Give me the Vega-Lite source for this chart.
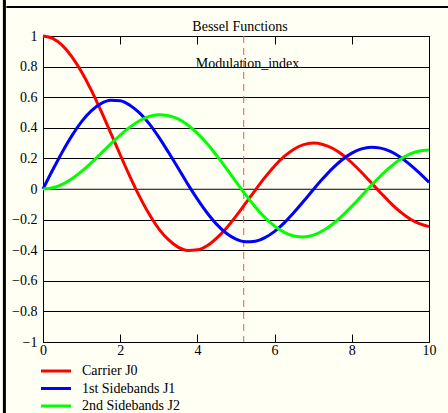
{
  "$schema": "https://vega.github.io/schema/vega-lite/v6.json",
  "width": 386,
  "height": 306,
  "autosize": {"type": "none"},
  "padding": {"left": 43, "top": 36, "right": 19, "bottom": 71},
  "background": "#fffff3",
  "title": {"text": "Bessel Functions", "font": "Liberation Serif", "fontSize": 14, "fontWeight": "normal", "color": "black", "anchor": "middle", "offset": 0, "dy": 38, "dx": 4},
  "config": {
    "view": {"stroke": "black", "strokeWidth": 1},
    "axis": {"labelFont": "Liberation Serif", "labelFontSize": 14, "labelColor": "black", "domain": false, "title": null, "labelOverlap": false}
  },
  "resolve": {"axis": {"x": "independent", "y": "independent"}},
  "datasets": {
    "bessel": [
      {"x": 0, "Carrier J0": 1, "1st Sidebands J1": 0, "2nd Sidebands J2": 0},
      {"x": 0.25, "Carrier J0": 0.9844, "1st Sidebands J1": 0.124, "2nd Sidebands J2": 0.0078},
      {"x": 0.5, "Carrier J0": 0.9385, "1st Sidebands J1": 0.2423, "2nd Sidebands J2": 0.0306},
      {"x": 0.75, "Carrier J0": 0.8642, "1st Sidebands J1": 0.3492, "2nd Sidebands J2": 0.0671},
      {"x": 1, "Carrier J0": 0.7652, "1st Sidebands J1": 0.4401, "2nd Sidebands J2": 0.1149},
      {"x": 1.25, "Carrier J0": 0.646, "1st Sidebands J1": 0.5106, "2nd Sidebands J2": 0.1709},
      {"x": 1.5, "Carrier J0": 0.5118, "1st Sidebands J1": 0.5579, "2nd Sidebands J2": 0.2321},
      {"x": 1.75, "Carrier J0": 0.369, "1st Sidebands J1": 0.58, "2nd Sidebands J2": 0.2938},
      {"x": 2, "Carrier J0": 0.2239, "1st Sidebands J1": 0.5767, "2nd Sidebands J2": 0.3528},
      {"x": 2.25, "Carrier J0": 0.0827, "1st Sidebands J1": 0.5479, "2nd Sidebands J2": 0.4043},
      {"x": 2.5, "Carrier J0": -0.0484, "1st Sidebands J1": 0.4971, "2nd Sidebands J2": 0.4461},
      {"x": 2.75, "Carrier J0": -0.1641, "1st Sidebands J1": 0.4275, "2nd Sidebands J2": 0.4751},
      {"x": 3, "Carrier J0": -0.2601, "1st Sidebands J1": 0.3391, "2nd Sidebands J2": 0.4861},
      {"x": 3.25, "Carrier J0": -0.3313, "1st Sidebands J1": 0.2402, "2nd Sidebands J2": 0.4791},
      {"x": 3.5, "Carrier J0": -0.3801, "1st Sidebands J1": 0.1374, "2nd Sidebands J2": 0.4586},
      {"x": 3.75, "Carrier J0": -0.4014, "1st Sidebands J1": 0.0321, "2nd Sidebands J2": 0.4185},
      {"x": 4, "Carrier J0": -0.3971, "1st Sidebands J1": -0.066, "2nd Sidebands J2": 0.3641},
      {"x": 4.25, "Carrier J0": -0.3706, "1st Sidebands J1": -0.155, "2nd Sidebands J2": 0.2977},
      {"x": 4.5, "Carrier J0": -0.3205, "1st Sidebands J1": -0.2311, "2nd Sidebands J2": 0.2178},
      {"x": 4.75, "Carrier J0": -0.256, "1st Sidebands J1": -0.289, "2nd Sidebands J2": 0.1343},
      {"x": 5, "Carrier J0": -0.1776, "1st Sidebands J1": -0.3276, "2nd Sidebands J2": 0.0466},
      {"x": 5.25, "Carrier J0": -0.0929, "1st Sidebands J1": -0.345, "2nd Sidebands J2": -0.0385},
      {"x": 5.5, "Carrier J0": -0.0068, "1st Sidebands J1": -0.3414, "2nd Sidebands J2": -0.1173},
      {"x": 5.75, "Carrier J0": 0.0757, "1st Sidebands J1": -0.318, "2nd Sidebands J2": -0.1863},
      {"x": 6, "Carrier J0": 0.1506, "1st Sidebands J1": -0.2767, "2nd Sidebands J2": -0.2429},
      {"x": 6.25, "Carrier J0": 0.2126, "1st Sidebands J1": -0.221, "2nd Sidebands J2": -0.2833},
      {"x": 6.5, "Carrier J0": 0.2601, "1st Sidebands J1": -0.1538, "2nd Sidebands J2": -0.3074},
      {"x": 6.75, "Carrier J0": 0.2896, "1st Sidebands J1": -0.0806, "2nd Sidebands J2": -0.3135},
      {"x": 7, "Carrier J0": 0.3001, "1st Sidebands J1": -0.0047, "2nd Sidebands J2": -0.3014},
      {"x": 7.25, "Carrier J0": 0.2913, "1st Sidebands J1": 0.068, "2nd Sidebands J2": -0.2725},
      {"x": 7.5, "Carrier J0": 0.2663, "1st Sidebands J1": 0.1352, "2nd Sidebands J2": -0.2303},
      {"x": 7.75, "Carrier J0": 0.2255, "1st Sidebands J1": 0.1914, "2nd Sidebands J2": -0.1761},
      {"x": 8, "Carrier J0": 0.1717, "1st Sidebands J1": 0.2346, "2nd Sidebands J2": -0.113},
      {"x": 8.25, "Carrier J0": 0.109, "1st Sidebands J1": 0.262, "2nd Sidebands J2": -0.0455},
      {"x": 8.5, "Carrier J0": 0.0419, "1st Sidebands J1": 0.2731, "2nd Sidebands J2": 0.0223},
      {"x": 8.75, "Carrier J0": -0.0256, "1st Sidebands J1": 0.267, "2nd Sidebands J2": 0.0866},
      {"x": 9, "Carrier J0": -0.0903, "1st Sidebands J1": 0.2453, "2nd Sidebands J2": 0.1448},
      {"x": 9.25, "Carrier J0": -0.148, "1st Sidebands J1": 0.2093, "2nd Sidebands J2": 0.1933},
      {"x": 9.5, "Carrier J0": -0.1939, "1st Sidebands J1": 0.1613, "2nd Sidebands J2": 0.2279},
      {"x": 9.75, "Carrier J0": -0.2267, "1st Sidebands J1": 0.1053, "2nd Sidebands J2": 0.2483},
      {"x": 10, "Carrier J0": -0.2459, "1st Sidebands J1": 0.0435, "2nd Sidebands J2": 0.2546}
    ]
  },
  "layer": [
    {
      "data": {"values": [{"y": 0}]},
      "mark": {"type": "rule", "color": "#808080", "strokeWidth": 1},
      "encoding": {
        "y": {"field": "y", "type": "quantitative", "scale": {"domain": [-1, 1], "nice": false, "zero": false},
          "axis": {"values": [-1, -0.8, -0.6, -0.4, -0.2, 0, 0.2, 0.4, 0.6, 0.8, 1], "format": "~g", "ticks": false, "labelPadding": 6, "grid": true,
            "gridColor": "black", "gridWidth": 1, "gridOpacity": 1}}
      }
    },
    {
      "data": {"values": [{"x": 5.2}]},
      "mark": {"type": "rule", "color": "#f05555", "strokeWidth": 1, "strokeDash": [7, 5]},
      "encoding": {
        "x": {"field": "x", "type": "quantitative", "scale": {"domain": [0, 10], "nice": false, "zero": false},
          "axis": {"orient": "top", "values": [0, 2, 4, 6, 8, 10], "labels": false, "grid": false, "ticks": true, "tickSize": -8, "tickColor": "black", "domain": false}}
      }
    },
    {
      "data": {"name": "bessel"},
      "transform": [{"fold": ["Carrier J0", "1st Sidebands J1", "2nd Sidebands J2"], "as": ["series", "value"]}],
      "mark": {"type": "line", "strokeWidth": 3, "interpolate": "monotone"},
      "encoding": {
        "x": {"field": "x", "type": "quantitative",
          "axis": {"orient": "bottom", "values": [0, 2, 4, 6, 8, 10], "grid": false, "ticks": true, "tickSize": -8, "tickColor": "black", "labelPadding": 9, "labelDx": 5, "labelFlush": false, "format": "d"}},
        "y": {"field": "value", "type": "quantitative", "axis": null},
        "color": {"field": "series", "type": "nominal",
          "scale": {"domain": ["Carrier J0", "1st Sidebands J1", "2nd Sidebands J2"], "range": ["#ff0000", "#0000ff", "#00ff00"]},
          "legend": {"orient": "none", "legendX": 6, "legendY": 328, "title": null, "symbolType": "M-3,0H3", "symbolSize": 100, "symbolStrokeWidth": 3, "rowPadding": 3.5,
            "labelFont": "Liberation Serif", "labelFontSize": 14, "labelColor": "black", "labelOffset": 19}},
        "order": {"field": "x", "type": "quantitative"}
      }
    },
    {
      "data": {"values": [{"x": 5.3, "y": 0.8, "label": "Modulation_index"}]},
      "mark": {"type": "text", "font": "Liberation Serif", "fontSize": 14, "color": "black", "align": "center", "baseline": "alphabetic", "dy": 1},
      "encoding": {
        "x": {"field": "x", "type": "quantitative", "axis": null},
        "y": {"field": "y", "type": "quantitative", "axis": null},
        "text": {"field": "label"}
      }
    },
    {
      "data": {"values": [{"x": -1, "y": 1.25, "y2": -1.5}]},
      "mark": {"type": "rule", "color": "black", "strokeWidth": 3},
      "encoding": {
        "x": {"field": "x", "type": "quantitative", "axis": null},
        "y": {"field": "y", "type": "quantitative", "axis": null},
        "y2": {"field": "y2"}
      }
    },
    {
      "data": {"values": [{"x": -0.95, "x2": 10.6, "y": 1.19}]},
      "mark": {"type": "rule", "color": "black", "strokeWidth": 2},
      "encoding": {
        "x": {"field": "x", "type": "quantitative", "axis": null},
        "x2": {"field": "x2"},
        "y": {"field": "y", "type": "quantitative", "axis": null}
      }
    }
  ]
}
